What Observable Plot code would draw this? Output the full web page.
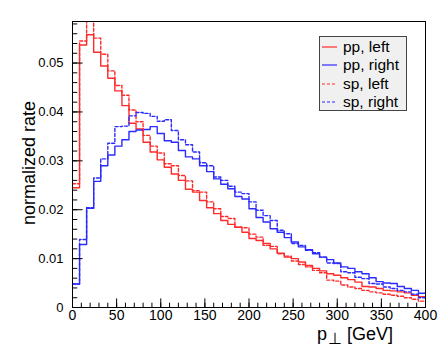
<!DOCTYPE html>
<html><head><meta charset="utf-8">
<script src="https://cdn.jsdelivr.net/npm/d3@7"></script>
<script src="https://cdn.jsdelivr.net/npm/@observablehq/plot@0.6"></script>
<style>
body{margin:0;background:#fff;}
#wrap{position:relative;width:441px;height:359px;font-family:"Liberation Sans",Arial,Helvetica,sans-serif;}
#legend{position:absolute;left:319px;top:36px;width:88px;height:75px;background:#f0f0f0;border:1px solid #444;box-sizing:border-box;padding-top:1px;}
.row{display:flex;align-items:center;height:18.3px;font-size:15.5px;color:#000;}
.row svg{margin-left:2px;margin-right:6px;}
</style></head><body><div id="wrap"><div id="legend"></div></div>
<script>
// bin width in GeV (50 bins from 0 to 400)
const binWidth = 8;
const ppLeft = [0.0245,0.0537,0.0558,0.0522,0.0494,0.0469,0.0443,0.0413,0.0377,0.0365,
  0.0338,0.0318,0.0302,0.0287,0.0273,0.0260,0.0242,0.0236,0.0219,0.0204,
  0.0192,0.0178,0.0170,0.0164,0.0154,0.0141,0.0137,0.0131,0.0120,0.0111,
  0.0103,0.0100,0.0093,0.0086,0.0080,0.0075,0.0069,0.0066,0.0061,0.0057,
  0.0052,0.0043,0.0042,0.0039,0.0035,0.0034,0.0032,0.0030,0.0025,0.0022];
const ppRight = [0.0048,0.0129,0.0203,0.0258,0.0290,0.0312,0.0330,0.0343,0.0360,0.0363,
  0.0364,0.0370,0.0356,0.0341,0.0338,0.0321,0.0308,0.0304,0.0290,0.0278,
  0.0263,0.0252,0.0243,0.0227,0.0222,0.0202,0.0184,0.0175,0.0161,0.0154,
  0.0143,0.0134,0.0124,0.0118,0.0110,0.0103,0.0098,0.0091,0.0083,0.0080,
  0.0073,0.0069,0.0061,0.0053,0.0050,0.0049,0.0043,0.0039,0.0035,0.0029];
const spLeft = [0.0253,0.0545,0.0595,0.0551,0.0518,0.0484,0.0454,0.0434,0.0404,0.0380,
  0.0352,0.0330,0.0316,0.0294,0.0290,0.0270,0.0259,0.0239,0.0236,0.0216,
  0.0202,0.0186,0.0182,0.0164,0.0163,0.0150,0.0144,0.0127,0.0125,0.0110,
  0.0105,0.0095,0.0088,0.0083,0.0076,0.0071,0.0056,0.0054,0.0046,0.0042,
  0.0039,0.0035,0.0032,0.0030,0.0027,0.0025,0.0023,0.0020,0.0017,0.0013];
const spRight = [0.0048,0.0139,0.0204,0.0265,0.0304,0.0336,0.0370,0.0371,0.0392,0.0399,
  0.0397,0.0391,0.0381,0.0384,0.0362,0.0343,0.0333,0.0318,0.0296,0.0290,
  0.0267,0.0260,0.0248,0.0236,0.0233,0.0216,0.0199,0.0188,0.0178,0.0158,
  0.0151,0.0131,0.0127,0.0117,0.0112,0.0103,0.0091,0.0090,0.0073,0.0071,
  0.0062,0.0059,0.0049,0.0048,0.0042,0.0039,0.0035,0.0032,0.0027,0.0020];

const seriesNames = ["pp, left", "pp, right", "sp, left", "sp, right"];
const seriesValues = [ppLeft, ppRight, spLeft, spRight];
const seriesColors = ["#ff2b2b", "#2b2bff", "#ff2b2b", "#2b2bff"];
const seriesDash = [null, null, "3,2", "3,2"];

const xTicks = [0, 50, 100, 150, 200, 250, 300, 350, 400];
const xMinorTicks = d3.range(0, 401, 10);
const yTicks = [0, 0.01, 0.02, 0.03, 0.04, 0.05];
const yMinorTicks = d3.range(0, 0.0585, 0.002);
const yTickLabels = ["0", "0.01", "0.02", "0.03", "0.04", "0.05"];
const xDomain = [0, 400];
const yDomain = [0, 0.0585];

function stepRows(vals, name) {
  const rows = vals.map((v, i) => ({series: name, x: i * binWidth, y: v}));
  rows.push({series: name, x: vals.length * binWidth, y: vals[vals.length - 1]});
  return rows;
}

const lineMarks = seriesValues.map((vals, k) =>
  Plot.lineY(stepRows(vals, seriesNames[k]), {
    x: "x", y: "y", curve: "step-after", stroke: seriesColors[k],
    strokeWidth: 1.4, strokeDasharray: seriesDash[k] || undefined, clip: true
  })
);

const chart = Plot.plot({
  width: 441, height: 359,
  marginLeft: 72, marginRight: 16, marginTop: 21, marginBottom: 52,
  x: {domain: xDomain},
  y: {domain: yDomain},
  style: {fontFamily: '"Liberation Sans", Arial, Helvetica, sans-serif', background: "white", color: "#000"},
  marks: [
    ...lineMarks,
    Plot.ruleY(yTicks, {x1: 0, x2: 12, stroke: "#000"}),
    Plot.ruleY(yMinorTicks, {x1: 0, x2: 6, stroke: "#000"}),
    Plot.ruleX(xTicks, {y1: 0, y2: 0.00176, stroke: "#000"}),
    Plot.ruleX(xMinorTicks, {y1: 0, y2: 0.00088, stroke: "#000"}),
    Plot.axisX({ticks: xTicks, tickSize: 0, tickPadding: 3, fontSize: 14, label: null, tickFormat: d => String(d)}),
    Plot.axisY({ticks: yTicks, tickSize: 0, tickPadding: 9, fontSize: 13, label: null,
      tickFormat: d => yTickLabels[yTicks.indexOf(d)]}),
    Plot.frame({stroke: "#000", strokeWidth: 1})
  ]
});

const svg = d3.select(chart);
const xt = svg.append("text")
  .attr("x", 393).attr("y", 340).attr("text-anchor", "end")
  .attr("font-size", 18).attr("fill", "#000");
xt.append("tspan").text("p");
xt.append("tspan").attr("font-size", 16).attr("dx", 1).attr("dy", 4).text("\u22a5");
xt.append("tspan").attr("dy", -4).text(" [GeV]");
svg.append("text")
  .attr("transform", "translate(30,163) rotate(-90)")
  .attr("text-anchor", "middle").attr("dominant-baseline", "middle")
  .attr("font-size", 18).attr("fill", "#000").text("normalized rate");

const wrap = document.getElementById("wrap");
wrap.insertBefore(chart, wrap.firstChild);

const legend = d3.select("#legend");
seriesNames.forEach((name, k) => {
  const row = legend.append("div").attr("class", "row");
  const s = row.append("svg").attr("width", 15).attr("height", 4);
  s.append("line").attr("x1", 0).attr("x2", 15).attr("y1", 2).attr("y2", 2)
    .attr("stroke", seriesColors[k]).attr("stroke-width", 1.2)
    .attr("stroke-dasharray", seriesDash[k] || null);
  row.append("span").text(name);
});
</script>
</body></html>
